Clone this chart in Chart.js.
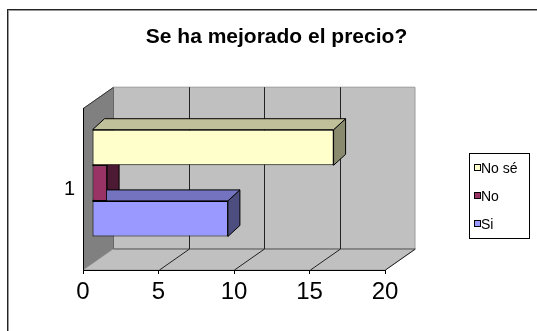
<!DOCTYPE html>
<html>
<head>
<meta charset="utf-8">
<script src="https://cdn.jsdelivr.net/npm/chart.js@4/dist/chart.umd.min.js"></script>
<style>
  html, body { margin: 0; padding: 0; background: #fff; }
  #wrap { width: 537px; height: 331px; }
</style>
</head>
<body>
<div id="wrap"><canvas id="myChart"></canvas></div>
<script>
const categories = ["1"];
// listed top to bottom, same as the legend
const seriesNames = ["No sé", "No", "Si"];
const seriesValues = [16, 1, 9];
const xTickStep = 5;
const xMax = 20;

// front, top and side shades for each series
const frontColors = ["#ffffcc", "#993366", "#9999ff"];
const topColors = ["#c0c09a", "#73264d", "#7373bf"];
const sideColors = ["#8a8a6e", "#4d1a33", "#4d4d80"];

const FONT = "'Liberation Sans', Arial, sans-serif";
const WALL_DX = 30, WALL_DY = -21;   // depth of the plot box
const BAR_SHIFT_X = 9, BAR_SHIFT_Y = -6; // bars sit a bit behind the front plane
const BAR_DX = 12, BAR_DY = -11;     // bar thickness

function poly(ctx, pts, fill, stroke) {
  ctx.beginPath();
  ctx.moveTo(pts[0][0], pts[0][1]);
  for (let i = 1; i < pts.length; i++) ctx.lineTo(pts[i][0], pts[i][1]);
  ctx.closePath();
  if (fill) { ctx.fillStyle = fill; ctx.fill(); }
  if (stroke) { ctx.strokeStyle = stroke; ctx.lineWidth = 1; ctx.stroke(); }
}

const walls = {
  id: "walls",
  beforeDraw(chart) {
    const { ctx, chartArea: a } = chart;
    const xs = chart.scales.x;
    ctx.save();
    // outer frame
    ctx.fillStyle = "#222";
    ctx.fillRect(7, 9, 1, 331);
    ctx.fillRect(7, 9, 537, 1);
    ctx.fillStyle = "#999";
    ctx.fillRect(8, 10, 1, 331);
    ctx.fillRect(8, 10, 537, 1);

    const L = a.left, R = a.right, T = a.top, B = a.bottom;
    // back wall
    poly(ctx, [[L + WALL_DX, T + WALL_DY], [R + WALL_DX, T + WALL_DY], [R + WALL_DX, B + WALL_DY], [L + WALL_DX, B + WALL_DY]], "#c0c0c0", "#9a9a9a");
    // floor
    poly(ctx, [[L, B], [R, B], [R + WALL_DX, B + WALL_DY], [L + WALL_DX, B + WALL_DY]], "#c0c0c0", "#9a9a9a");
    // side wall
    poly(ctx, [[L, T], [L + WALL_DX, T + WALL_DY], [L + WALL_DX, B + WALL_DY], [L, B]], "#808080", null);
    ctx.strokeStyle = "#333";
    ctx.lineWidth = 1;
    ctx.beginPath();
    ctx.moveTo(L, T + 0.5);
    ctx.lineTo(L + WALL_DX, T + WALL_DY + 0.5);
    ctx.stroke();
    ctx.strokeStyle = "#666";
    ctx.beginPath();
    ctx.moveTo(L + WALL_DX + 0.5, T + WALL_DY);
    ctx.lineTo(L + WALL_DX + 0.5, B + WALL_DY);
    ctx.lineTo(R + WALL_DX, B + WALL_DY);
    ctx.stroke();

    // gridlines: up the back wall and across the floor
    ctx.strokeStyle = "#222";
    for (let v = xTickStep; v <= xMax; v += xTickStep) {
      const px = Math.round(xs.getPixelForValue(v)) + 0.5;
      ctx.beginPath();
      ctx.moveTo(px, B);
      ctx.lineTo(px + WALL_DX, B + WALL_DY);
      if (v < xMax) ctx.lineTo(px + WALL_DX, T + WALL_DY);
      ctx.stroke();
    }
    ctx.restore();
  }
};

const barDepth = {
  id: "barDepth",
  beforeDatasetsDraw(chart) {
    const ctx = chart.ctx;
    ctx.save();
    ctx.translate(BAR_SHIFT_X, BAR_SHIFT_Y);
    const bars = [];
    chart.data.datasets.forEach((ds, i) => {
      chart.getDatasetMeta(i).data.forEach((el) => {
        const p = el.getProps(["x", "y", "base", "height"], true);
        bars.push({ i, x: p.x, base: p.base, top: p.y - p.height / 2, bottom: p.y + p.height / 2 });
      });
    });
    // side faces first, then tops; the fronts are drawn by Chart.js on top
    bars.forEach((b) => {
      poly(ctx, [[b.x, b.top], [b.x + BAR_DX, b.top + BAR_DY], [b.x + BAR_DX, b.bottom + BAR_DY], [b.x, b.bottom]], sideColors[b.i], "#000");
    });
    bars.forEach((b) => {
      poly(ctx, [[b.base, b.top], [b.base + BAR_DX, b.top + BAR_DY], [b.x + BAR_DX, b.top + BAR_DY], [b.x, b.top]], topColors[b.i], "#000");
    });
  },
  afterDatasetsDraw(chart) {
    chart.ctx.restore();
  }
};

const legendBox = {
  id: "legendBox",
  afterDraw(chart) {
    const ctx = chart.ctx;
    ctx.save();
    ctx.strokeStyle = "#000";
    ctx.lineWidth = 1;
    ctx.strokeRect(469.5, 153.5, 60, 85);
    ctx.font = "14px " + FONT;
    ctx.textBaseline = "middle";
    const rows = [168, 196, 224];
    seriesNames.forEach((name, i) => {
      const y = rows[i];
      ctx.fillStyle = frontColors[i];
      ctx.fillRect(474, y - 4, 7, 7);
      ctx.strokeRect(474.5, y - 3.5, 6, 6);
      ctx.fillStyle = "#000";
      ctx.fillText(name, 481, y + 1);
    });
    ctx.restore();
  }
};

new Chart(document.getElementById("myChart"), {
  type: "bar",
  data: {
    labels: categories,
    datasets: seriesNames.map((name, i) => ({
      label: name,
      data: [seriesValues[i]],
      backgroundColor: frontColors[i],
      borderColor: "#000",
      borderWidth: 1,
      borderSkipped: false,
      categoryPercentage: 0.66,
      barPercentage: 1,
    })),
  },
  options: {
    indexAxis: "y",
    responsive: true,
    maintainAspectRatio: false,
    animation: false,
    layout: { padding: { left: 16, right: 0, top: 0, bottom: 0 } },
    plugins: {
      legend: { display: false },
      tooltip: { enabled: false },
      title: {
        display: true,
        text: "Se ha mejorado el precio?",
        color: "#000",
        font: { family: FONT, size: 21, weight: "bold" },
        padding: { top: 25, bottom: 58 },
      },
    },
    scales: {
      x: {
        min: 0,
        max: xMax,
        ticks: { stepSize: xTickStep, color: "#000", padding: 4, font: { family: FONT, size: 24 } },
        grid: { drawOnChartArea: false, drawTicks: true, tickLength: 4, color: "#000" },
        border: { display: true, color: "#000" },
        afterFit: (s) => { s.height = 61; },
      },
      y: {
        ticks: { color: "#000", padding: 8, font: { family: FONT, size: 20 } },
        grid: { display: false, drawTicks: false },
        border: { display: true, color: "#000" },
        afterFit: (s) => { s.width = 67; },
      },
      side: {
        type: "linear",
        position: "right",
        display: true,
        ticks: { display: false },
        grid: { display: false },
        border: { display: false },
        afterFit: (s) => { s.width = 152; },
      },
    },
  },
  plugins: [walls, barDepth, legendBox],
});
</script>
</body>
</html>
